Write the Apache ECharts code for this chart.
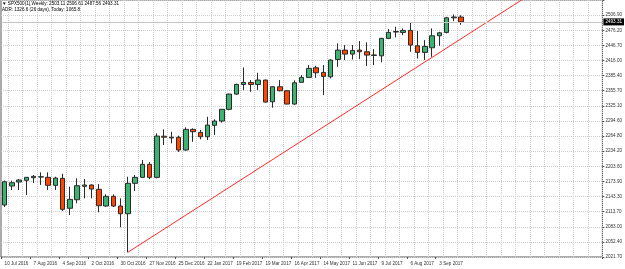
<!DOCTYPE html>
<html>
<head>
<meta charset="utf-8">
<script src="https://cdn.jsdelivr.net/npm/echarts/dist/echarts.min.js"></script>
<style>
  body { margin: 0; background: #fff; }
  #chart { width: 625px; height: 269px; }
</style>
</head>
<body>
<div id="chart"></div>
<script>
// weekly bars (week of 10 Jul 2016 .. 24 Sep 2017)
var opens = [2126.0, 2164.1, 2172.1, 2175.5, 2180.7, 2182.1, 2181.5, 2165.5, 2179.5, 2119.4,
  2136.6, 2163.5, 2166.1, 2157.5, 2124.0, 2143.4, 2124.0, 2108.5, 2169.5, 2181.5,
  2207.6, 2181.5, 2264.0, 2260.5, 2261.7, 2236.3, 2277.7, 2271.7, 2262.9, 2285.8,
  2294.4, 2317.9, 2348.5, 2367.8, 2371.8, 2367.8, 2376.6, 2333.1, 2363.2, 2355.2,
  2328.5, 2372.0, 2382.0, 2401.3, 2392.0, 2383.2, 2418.0, 2436.7, 2428.7, 2436.7,
  2433.4, 2427.0, 2425.3, 2460.2, 2473.0, 2472.2, 2476.2, 2445.4, 2432.1, 2441.4,
  2465.4, 2472.2, 2501.5, 2503.11];
var closes = [2172.7, 2170.7, 2176.1, 2181.5, 2183.5, 2182.6, 2165.5, 2180.1, 2117.3, 2137.4,
  2164.7, 2166.1, 2158.0, 2124.6, 2143.4, 2124.0, 2108.5, 2169.5, 2181.5, 2207.6,
  2181.5, 2264.3, 2262.0, 2262.0, 2236.3, 2277.7, 2273.0, 2262.9, 2286.4, 2294.4,
  2317.9, 2348.5, 2367.8, 2371.8, 2367.8, 2376.6, 2332.5, 2363.2, 2355.2, 2328.5,
  2371.2, 2382.0, 2400.0, 2391.2, 2384.0, 2416.7, 2436.7, 2428.7, 2436.1, 2433.4,
  2426.7, 2426.0, 2460.2, 2472.2, 2474.0, 2476.2, 2446.8, 2432.1, 2444.1, 2465.4,
  2471.4, 2501.5, 2503.11, 2493.31];
var lows = [2122.0, 2156.0, 2156.0, 2146.0, 2170.1, 2166.1, 2156.0, 2156.0, 2114.0, 2105.9,
  2129.4, 2139.4, 2139.4, 2111.4, 2122.0, 2122.0, 2081.3, 2031.1, 2154.0, 2180.7,
  2178.0, 2179.5, 2246.3, 2249.7, 2232.5, 2234.9, 2252.9, 2257.7, 2256.3, 2266.3,
  2291.1, 2316.0, 2347.0, 2356.5, 2353.1, 2356.5, 2331.5, 2321.1, 2354.0, 2328.0,
  2327.0, 2372.0, 2381.0, 2381.2, 2346.5, 2379.9, 2403.3, 2416.7, 2417.7, 2418.7,
  2404.7, 2406.7, 2412.1, 2458.8, 2462.2, 2466.8, 2433.3, 2420.0, 2416.7, 2423.3,
  2445.4, 2470.2, 2494.9, 2487.56];
var highs = [2175.0, 2174.7, 2178.1, 2182.1, 2186.1, 2191.5, 2191.5, 2182.7, 2188.7, 2162.7,
  2179.5, 2178.1, 2167.5, 2168.1, 2147.4, 2147.4, 2139.4, 2182.7, 2186.1, 2216.2,
  2212.0, 2269.7, 2277.7, 2272.9, 2265.0, 2281.8, 2279.8, 2276.4, 2303.0, 2297.8,
  2318.5, 2349.5, 2369.5, 2402.0, 2376.6, 2391.2, 2377.5, 2364.0, 2376.6, 2356.0,
  2376.0, 2386.6, 2406.7, 2405.3, 2406.7, 2418.4, 2450.2, 2446.8, 2446.8, 2454.8,
  2452.2, 2438.8, 2461.4, 2478.9, 2483.5, 2480.2, 2492.3, 2474.8, 2456.8, 2480.2,
  2473.4, 2503.5, 2508.3, 2506.61];

// price scale labels on the right
var yLabels = ['2021.70', '2052.40', '2083.00', '2113.70', '2143.30', '2173.90', '2203.60',
  '2234.20', '2264.80', '2294.60', '2325.10', '2355.70', '2385.40', '2416.00', '2446.70',
  '2476.20', '2506.90'];

// trend line: from the election week low up through the later lows
var trendFrom = [17, 2031.1];
var trendTo = [72, 2543.3];

var lastPrice = 2493.31;
var headerText = '\u25BC SPX500(1),Weekly: 2503.11 2506.61 2487.56 2493.31\nADR: 1326.6 (26 days), Today: 1065.8';

// weeks on the time scale (incl. empty space to the right)
var months = ['Jan', 'Feb', 'Mar', 'Apr', 'May', 'Jun', 'Jul', 'Aug', 'Sep', 'Oct', 'Nov', 'Dec'];
var weekCount = 83;
var weeks = [];
for (var i = 0; i < weekCount; i++) {
  var d = new Date(Date.UTC(2016, 6, 10 + i * 7));
  weeks.push(d.getUTCDate() + ' ' + months[d.getUTCMonth()] + ' ' + d.getUTCFullYear());
}

var candles = [];
for (var k = 0; k < opens.length; k++) {
  candles.push([opens[k], closes[k], lows[k], highs[k]]);
}

var yBase = 2021.7;
var yStep = (2506.9 - 2021.7) / 16;

var myChart = echarts.init(document.getElementById('chart'));
var labelFont = 'Liberation Sans, Arial, sans-serif';
var showDate = function (idx) { return idx % 4 === 0 && idx < opens.length; };

myChart.setOption({
  animation: false,
  backgroundColor: '#fff',
  title: {
    text: headerText,
    left: 2,
    top: 1,
    padding: 0,
    textStyle: { fontSize: 4.6, lineHeight: 6, fontWeight: 'normal', color: '#000', fontFamily: labelFont }
  },
  grid: {
    left: 1, right: 20, top: 0, bottom: 12,
    show: true, borderColor: '#555', borderWidth: 1, backgroundColor: '#fff'
  },
  xAxis: {
    type: 'category',
    data: weeks,
    boundaryGap: true,
    axisLine: { show: false },
    axisTick: { show: true, interval: showDate, length: 2, lineStyle: { color: '#555' } },
    axisLabel: {
      interval: showDate, align: 'left', fontSize: 4.6, margin: 4,
      color: '#333', fontFamily: labelFont
    },
    splitLine: {
      show: true,
      interval: function (idx) { return idx % 2 === 1; },
      lineStyle: { color: '#cdcdcd', type: 'dotted', width: 1 }
    }
  },
  yAxis: [
    {
      type: 'value',
      position: 'left',
      show: false,
      min: yBase,
      max: yBase + 17 * yStep,
      splitLine: { show: false }
    },
    {
      type: 'value',
      position: 'right',
      min: 0,
      max: 17,
      interval: 1,
      axisLine: { show: false },
      axisTick: { show: true, length: 2, lineStyle: { color: '#555' } },
      axisLabel: {
        fontSize: 4.6, margin: 3, color: '#333', fontFamily: labelFont,
        formatter: function (v) { return yLabels[v] || ''; }
      },
      splitLine: { show: true, lineStyle: { color: '#cdcdcd', type: 'dotted', width: 1 } }
    }
  ],
  series: [
    {
      name: 'SPX500',
      type: 'candlestick',
      yAxisIndex: 0,
      data: candles,
      barWidth: 5,
      itemStyle: {
        color: '#3cb371',
        color0: '#ff4500',
        borderColor: '#2b2b2b',
        borderColor0: '#2b2b2b',
        borderWidth: 1
      },
      markLine: {
        silent: true,
        symbol: 'none',
        lineStyle: { color: '#c4c4c4', type: 'solid', width: 1 },
        label: {
          position: 'end',
          distance: 1,
          formatter: lastPrice.toFixed(2),
          color: '#fff',
          backgroundColor: '#000',
          padding: [1, 2, 1, 2],
          fontSize: 4.6,
          fontFamily: labelFont
        },
        data: [{ yAxis: lastPrice }]
      }
    },
    {
      name: 'trend',
      type: 'line',
      yAxisIndex: 0,
      data: [[weeks[trendFrom[0]], trendFrom[1]], [weeks[trendTo[0]], trendTo[1]]],
      showSymbol: false,
      clip: true,
      lineStyle: { color: '#ff2a2a', width: 1 }
    }
  ]
});
</script>
</body>
</html>
